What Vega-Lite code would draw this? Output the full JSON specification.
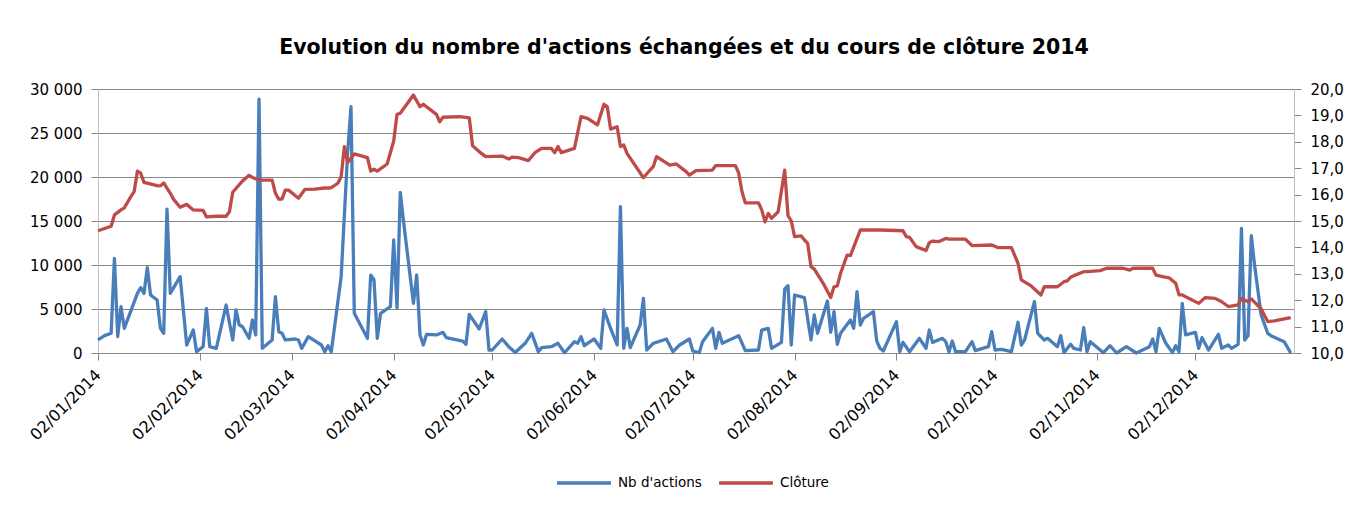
{
  "$schema": "https://vega.github.io/schema/vega-lite/v6.json",
  "width": 1196,
  "height": 264,
  "autosize": {"type": "none"},
  "padding": {"left": 98, "top": 89, "right": 60, "bottom": 154},
  "background": "white",
  "config": {
    "locale": {"number": {"decimal": ",", "thousands": " ", "grouping": [3], "currency": ["", " €"]}},
    "view": {"stroke": null},
    "font": "DejaVu Sans"
  },
  "title": {
    "text": "Evolution du nombre d'actions échangées et du cours de clôture 2014",
    "font": "DejaVu Sans",
    "fontSize": 20.5,
    "fontWeight": "bold",
    "color": "#000000",
    "anchor": "middle",
    "offset": 24,
    "dx": -12
  },
  "datasets": {
    "nb": [
      {"date": "2014-01-02", "v": 1480}, {"date": "2014-01-04", "v": 1970}, {"date": "2014-01-06", "v": 2240},
      {"date": "2014-01-07", "v": 10760}, {"date": "2014-01-08", "v": 1860}, {"date": "2014-01-09", "v": 5270},
      {"date": "2014-01-10", "v": 2800}, {"date": "2014-01-14", "v": 6780}, {"date": "2014-01-15", "v": 7420},
      {"date": "2014-01-16", "v": 6780}, {"date": "2014-01-17", "v": 9700}, {"date": "2014-01-18", "v": 6590},
      {"date": "2014-01-20", "v": 6020}, {"date": "2014-01-21", "v": 2800}, {"date": "2014-01-22", "v": 2240},
      {"date": "2014-01-23", "v": 16360}, {"date": "2014-01-24", "v": 6780}, {"date": "2014-01-27", "v": 8670},
      {"date": "2014-01-29", "v": 910}, {"date": "2014-01-31", "v": 2610}, {"date": "2014-02-01", "v": 150},
      {"date": "2014-02-03", "v": 720}, {"date": "2014-02-04", "v": 5080}, {"date": "2014-02-05", "v": 720},
      {"date": "2014-02-07", "v": 530}, {"date": "2014-02-10", "v": 5450}, {"date": "2014-02-12", "v": 1480},
      {"date": "2014-02-13", "v": 4890}, {"date": "2014-02-14", "v": 3180}, {"date": "2014-02-15", "v": 2990},
      {"date": "2014-02-17", "v": 1670}, {"date": "2014-02-18", "v": 3750}, {"date": "2014-02-19", "v": 2050},
      {"date": "2014-02-20", "v": 28860}, {"date": "2014-02-21", "v": 530}, {"date": "2014-02-24", "v": 1480},
      {"date": "2014-02-25", "v": 6400}, {"date": "2014-02-26", "v": 2420}, {"date": "2014-02-27", "v": 2240},
      {"date": "2014-02-28", "v": 1480}, {"date": "2014-03-03", "v": 1590}, {"date": "2014-03-04", "v": 1480},
      {"date": "2014-03-05", "v": 530}, {"date": "2014-03-07", "v": 1860}, {"date": "2014-03-11", "v": 910},
      {"date": "2014-03-12", "v": 150}, {"date": "2014-03-13", "v": 830}, {"date": "2014-03-14", "v": 150},
      {"date": "2014-03-17", "v": 8670}, {"date": "2014-03-19", "v": 22880}, {"date": "2014-03-20", "v": 27990},
      {"date": "2014-03-21", "v": 4510}, {"date": "2014-03-25", "v": 1670}, {"date": "2014-03-26", "v": 8860},
      {"date": "2014-03-27", "v": 8300}, {"date": "2014-03-28", "v": 1670}, {"date": "2014-03-29", "v": 4510},
      {"date": "2014-04-01", "v": 5270}, {"date": "2014-04-02", "v": 12840}, {"date": "2014-04-03", "v": 5150},
      {"date": "2014-04-04", "v": 18260}, {"date": "2014-04-05", "v": 14920}, {"date": "2014-04-08", "v": 5640},
      {"date": "2014-04-09", "v": 8860}, {"date": "2014-04-10", "v": 2050}, {"date": "2014-04-11", "v": 910},
      {"date": "2014-04-12", "v": 2120}, {"date": "2014-04-15", "v": 2050}, {"date": "2014-04-17", "v": 2350},
      {"date": "2014-04-18", "v": 1740}, {"date": "2014-04-23", "v": 1360}, {"date": "2014-04-24", "v": 990},
      {"date": "2014-04-25", "v": 4390}, {"date": "2014-04-28", "v": 2730}, {"date": "2014-04-30", "v": 4700},
      {"date": "2014-05-01", "v": 340}, {"date": "2014-05-02", "v": 340}, {"date": "2014-05-05", "v": 1590},
      {"date": "2014-05-07", "v": 720}, {"date": "2014-05-09", "v": 50}, {"date": "2014-05-12", "v": 1100},
      {"date": "2014-05-14", "v": 2240}, {"date": "2014-05-16", "v": 150}, {"date": "2014-05-17", "v": 610},
      {"date": "2014-05-20", "v": 720}, {"date": "2014-05-22", "v": 1100}, {"date": "2014-05-24", "v": 30},
      {"date": "2014-05-27", "v": 1290}, {"date": "2014-05-28", "v": 1100}, {"date": "2014-05-29", "v": 1860},
      {"date": "2014-05-30", "v": 830}, {"date": "2014-06-01", "v": 1360}, {"date": "2014-06-02", "v": 1590},
      {"date": "2014-06-04", "v": 530}, {"date": "2014-06-05", "v": 4890}, {"date": "2014-06-07", "v": 2800},
      {"date": "2014-06-09", "v": 910}, {"date": "2014-06-10", "v": 16630}, {"date": "2014-06-11", "v": 530},
      {"date": "2014-06-12", "v": 2800}, {"date": "2014-06-13", "v": 610}, {"date": "2014-06-16", "v": 3180},
      {"date": "2014-06-17", "v": 6210}, {"date": "2014-06-18", "v": 340}, {"date": "2014-06-20", "v": 1100},
      {"date": "2014-06-24", "v": 1590}, {"date": "2014-06-26", "v": 150}, {"date": "2014-06-28", "v": 910},
      {"date": "2014-07-01", "v": 1590}, {"date": "2014-07-02", "v": 230}, {"date": "2014-07-04", "v": 40},
      {"date": "2014-07-05", "v": 1290}, {"date": "2014-07-08", "v": 2800}, {"date": "2014-07-09", "v": 530},
      {"date": "2014-07-10", "v": 2350}, {"date": "2014-07-11", "v": 1100}, {"date": "2014-07-16", "v": 1970},
      {"date": "2014-07-18", "v": 270}, {"date": "2014-07-22", "v": 340}, {"date": "2014-07-23", "v": 2610},
      {"date": "2014-07-25", "v": 2800}, {"date": "2014-07-26", "v": 530}, {"date": "2014-07-29", "v": 1210},
      {"date": "2014-07-30", "v": 7270}, {"date": "2014-07-31", "v": 7650}, {"date": "2014-08-01", "v": 910},
      {"date": "2014-08-02", "v": 6590}, {"date": "2014-08-05", "v": 6290}, {"date": "2014-08-07", "v": 1480},
      {"date": "2014-08-08", "v": 4320}, {"date": "2014-08-09", "v": 2240}, {"date": "2014-08-12", "v": 5910},
      {"date": "2014-08-13", "v": 2350}, {"date": "2014-08-14", "v": 4700}, {"date": "2014-08-15", "v": 990},
      {"date": "2014-08-16", "v": 2240}, {"date": "2014-08-19", "v": 3750}, {"date": "2014-08-20", "v": 2800},
      {"date": "2014-08-21", "v": 6970}, {"date": "2014-08-22", "v": 3180}, {"date": "2014-08-23", "v": 3940},
      {"date": "2014-08-26", "v": 4700}, {"date": "2014-08-27", "v": 1360}, {"date": "2014-08-28", "v": 530},
      {"date": "2014-08-29", "v": 230}, {"date": "2014-09-02", "v": 3560}, {"date": "2014-09-03", "v": 150},
      {"date": "2014-09-04", "v": 1210}, {"date": "2014-09-06", "v": 150}, {"date": "2014-09-09", "v": 1670},
      {"date": "2014-09-11", "v": 530}, {"date": "2014-09-12", "v": 2610}, {"date": "2014-09-13", "v": 1210},
      {"date": "2014-09-16", "v": 1670}, {"date": "2014-09-17", "v": 1290}, {"date": "2014-09-18", "v": 150},
      {"date": "2014-09-19", "v": 1360}, {"date": "2014-09-20", "v": 150}, {"date": "2014-09-23", "v": 150},
      {"date": "2014-09-25", "v": 1290}, {"date": "2014-09-26", "v": 270}, {"date": "2014-09-30", "v": 720},
      {"date": "2014-10-01", "v": 2420}, {"date": "2014-10-02", "v": 340}, {"date": "2014-10-04", "v": 420},
      {"date": "2014-10-07", "v": 150}, {"date": "2014-10-09", "v": 3490}, {"date": "2014-10-10", "v": 910},
      {"date": "2014-10-11", "v": 1480}, {"date": "2014-10-14", "v": 5830}, {"date": "2014-10-15", "v": 2240},
      {"date": "2014-10-17", "v": 1480}, {"date": "2014-10-18", "v": 1670}, {"date": "2014-10-21", "v": 720},
      {"date": "2014-10-22", "v": 1970}, {"date": "2014-10-23", "v": 40}, {"date": "2014-10-25", "v": 990},
      {"date": "2014-10-26", "v": 530}, {"date": "2014-10-28", "v": 340}, {"date": "2014-10-29", "v": 2880},
      {"date": "2014-10-30", "v": 150}, {"date": "2014-10-31", "v": 1290}, {"date": "2014-11-04", "v": 30},
      {"date": "2014-11-06", "v": 830}, {"date": "2014-11-08", "v": 0}, {"date": "2014-11-11", "v": 720},
      {"date": "2014-11-14", "v": 0}, {"date": "2014-11-18", "v": 720}, {"date": "2014-11-19", "v": 1590},
      {"date": "2014-11-20", "v": 150}, {"date": "2014-11-21", "v": 2800}, {"date": "2014-11-23", "v": 1100},
      {"date": "2014-11-25", "v": 40}, {"date": "2014-11-26", "v": 830}, {"date": "2014-11-27", "v": 150},
      {"date": "2014-11-28", "v": 5640}, {"date": "2014-11-29", "v": 2050}, {"date": "2014-12-02", "v": 2350},
      {"date": "2014-12-03", "v": 530}, {"date": "2014-12-04", "v": 1740}, {"date": "2014-12-06", "v": 340},
      {"date": "2014-12-09", "v": 2120}, {"date": "2014-12-10", "v": 530}, {"date": "2014-12-12", "v": 910},
      {"date": "2014-12-13", "v": 530}, {"date": "2014-12-15", "v": 990}, {"date": "2014-12-16", "v": 14170},
      {"date": "2014-12-17", "v": 1480}, {"date": "2014-12-18", "v": 1970}, {"date": "2014-12-19", "v": 13330},
      {"date": "2014-12-20", "v": 10000}, {"date": "2014-12-22", "v": 4320}, {"date": "2014-12-24", "v": 2240},
      {"date": "2014-12-25", "v": 1970}, {"date": "2014-12-29", "v": 1290}, {"date": "2014-12-31", "v": 0}
    ],
    "cl": [
      {"date": "2014-01-02", "v": 14.63}, {"date": "2014-01-06", "v": 14.8}, {"date": "2014-01-07", "v": 15.23},
      {"date": "2014-01-09", "v": 15.42}, {"date": "2014-01-10", "v": 15.5}, {"date": "2014-01-12", "v": 15.92},
      {"date": "2014-01-13", "v": 16.11}, {"date": "2014-01-14", "v": 16.89}, {"date": "2014-01-15", "v": 16.81},
      {"date": "2014-01-16", "v": 16.46}, {"date": "2014-01-20", "v": 16.34}, {"date": "2014-01-21", "v": 16.33},
      {"date": "2014-01-22", "v": 16.44}, {"date": "2014-01-24", "v": 16.05}, {"date": "2014-01-25", "v": 15.82},
      {"date": "2014-01-27", "v": 15.52}, {"date": "2014-01-29", "v": 15.63}, {"date": "2014-01-31", "v": 15.42},
      {"date": "2014-02-03", "v": 15.4}, {"date": "2014-02-04", "v": 15.16}, {"date": "2014-02-07", "v": 15.18},
      {"date": "2014-02-10", "v": 15.18}, {"date": "2014-02-11", "v": 15.35}, {"date": "2014-02-12", "v": 16.09},
      {"date": "2014-02-15", "v": 16.52}, {"date": "2014-02-17", "v": 16.73}, {"date": "2014-02-18", "v": 16.65},
      {"date": "2014-02-20", "v": 16.55}, {"date": "2014-02-24", "v": 16.55}, {"date": "2014-02-25", "v": 16.05},
      {"date": "2014-02-26", "v": 15.83}, {"date": "2014-02-27", "v": 15.83}, {"date": "2014-02-28", "v": 16.17},
      {"date": "2014-03-01", "v": 16.17}, {"date": "2014-03-04", "v": 15.86}, {"date": "2014-03-06", "v": 16.2},
      {"date": "2014-03-09", "v": 16.21}, {"date": "2014-03-11", "v": 16.24}, {"date": "2014-03-14", "v": 16.26},
      {"date": "2014-03-16", "v": 16.43}, {"date": "2014-03-17", "v": 16.68}, {"date": "2014-03-18", "v": 17.82},
      {"date": "2014-03-19", "v": 17.22}, {"date": "2014-03-21", "v": 17.54}, {"date": "2014-03-25", "v": 17.4},
      {"date": "2014-03-26", "v": 16.89}, {"date": "2014-03-27", "v": 16.96}, {"date": "2014-03-28", "v": 16.89},
      {"date": "2014-03-31", "v": 17.16}, {"date": "2014-04-02", "v": 18.03}, {"date": "2014-04-03", "v": 19.04},
      {"date": "2014-04-04", "v": 19.08}, {"date": "2014-04-08", "v": 19.77}, {"date": "2014-04-10", "v": 19.33},
      {"date": "2014-04-11", "v": 19.42}, {"date": "2014-04-15", "v": 19.04}, {"date": "2014-04-16", "v": 18.76},
      {"date": "2014-04-17", "v": 18.93}, {"date": "2014-04-22", "v": 18.95}, {"date": "2014-04-25", "v": 18.91},
      {"date": "2014-04-26", "v": 17.85}, {"date": "2014-04-28", "v": 17.63}, {"date": "2014-04-30", "v": 17.44},
      {"date": "2014-05-05", "v": 17.46}, {"date": "2014-05-07", "v": 17.35}, {"date": "2014-05-08", "v": 17.42},
      {"date": "2014-05-10", "v": 17.4}, {"date": "2014-05-13", "v": 17.29}, {"date": "2014-05-15", "v": 17.59},
      {"date": "2014-05-17", "v": 17.75}, {"date": "2014-05-20", "v": 17.75}, {"date": "2014-05-21", "v": 17.59},
      {"date": "2014-05-22", "v": 17.82}, {"date": "2014-05-23", "v": 17.59}, {"date": "2014-05-27", "v": 17.75},
      {"date": "2014-05-29", "v": 18.95}, {"date": "2014-05-31", "v": 18.89}, {"date": "2014-06-03", "v": 18.64},
      {"date": "2014-06-05", "v": 19.42}, {"date": "2014-06-06", "v": 19.33}, {"date": "2014-06-07", "v": 18.48},
      {"date": "2014-06-09", "v": 18.57}, {"date": "2014-06-10", "v": 17.82}, {"date": "2014-06-11", "v": 17.88},
      {"date": "2014-06-12", "v": 17.56}, {"date": "2014-06-17", "v": 16.64}, {"date": "2014-06-19", "v": 16.93},
      {"date": "2014-06-20", "v": 17.06}, {"date": "2014-06-21", "v": 17.44}, {"date": "2014-06-25", "v": 17.12},
      {"date": "2014-06-27", "v": 17.16}, {"date": "2014-06-30", "v": 16.87}, {"date": "2014-07-01", "v": 16.74},
      {"date": "2014-07-03", "v": 16.91}, {"date": "2014-07-08", "v": 16.93}, {"date": "2014-07-09", "v": 17.1},
      {"date": "2014-07-15", "v": 17.1}, {"date": "2014-07-16", "v": 16.81}, {"date": "2014-07-17", "v": 16.11},
      {"date": "2014-07-18", "v": 15.69}, {"date": "2014-07-22", "v": 15.69}, {"date": "2014-07-23", "v": 15.42},
      {"date": "2014-07-24", "v": 14.97}, {"date": "2014-07-25", "v": 15.29}, {"date": "2014-07-26", "v": 15.1},
      {"date": "2014-07-28", "v": 15.35}, {"date": "2014-07-30", "v": 16.93}, {"date": "2014-07-31", "v": 15.2},
      {"date": "2014-08-01", "v": 15.0}, {"date": "2014-08-02", "v": 14.41}, {"date": "2014-08-04", "v": 14.44},
      {"date": "2014-08-05", "v": 14.28}, {"date": "2014-08-06", "v": 14.15}, {"date": "2014-08-07", "v": 13.27},
      {"date": "2014-08-08", "v": 13.18}, {"date": "2014-08-11", "v": 12.58}, {"date": "2014-08-13", "v": 12.1},
      {"date": "2014-08-14", "v": 12.51}, {"date": "2014-08-15", "v": 12.54}, {"date": "2014-08-16", "v": 13.02},
      {"date": "2014-08-18", "v": 13.71}, {"date": "2014-08-19", "v": 13.69}, {"date": "2014-08-22", "v": 14.66},
      {"date": "2014-08-28", "v": 14.66}, {"date": "2014-09-04", "v": 14.63}, {"date": "2014-09-05", "v": 14.41},
      {"date": "2014-09-06", "v": 14.38}, {"date": "2014-09-08", "v": 14.03}, {"date": "2014-09-11", "v": 13.88},
      {"date": "2014-09-12", "v": 14.18}, {"date": "2014-09-13", "v": 14.24}, {"date": "2014-09-15", "v": 14.22},
      {"date": "2014-09-17", "v": 14.34}, {"date": "2014-09-18", "v": 14.31}, {"date": "2014-09-23", "v": 14.31},
      {"date": "2014-09-25", "v": 14.07}, {"date": "2014-10-01", "v": 14.09}, {"date": "2014-10-03", "v": 13.99},
      {"date": "2014-10-07", "v": 13.99}, {"date": "2014-10-09", "v": 13.4}, {"date": "2014-10-10", "v": 12.77},
      {"date": "2014-10-13", "v": 12.54}, {"date": "2014-10-16", "v": 12.2}, {"date": "2014-10-17", "v": 12.51},
      {"date": "2014-10-21", "v": 12.51}, {"date": "2014-10-23", "v": 12.7}, {"date": "2014-10-24", "v": 12.73},
      {"date": "2014-10-25", "v": 12.87}, {"date": "2014-10-26", "v": 12.93}, {"date": "2014-10-29", "v": 13.08},
      {"date": "2014-10-30", "v": 13.08}, {"date": "2014-11-03", "v": 13.12}, {"date": "2014-11-05", "v": 13.21},
      {"date": "2014-11-10", "v": 13.21}, {"date": "2014-11-12", "v": 13.14}, {"date": "2014-11-13", "v": 13.21},
      {"date": "2014-11-19", "v": 13.21}, {"date": "2014-11-20", "v": 12.95}, {"date": "2014-11-22", "v": 12.89},
      {"date": "2014-11-24", "v": 12.85}, {"date": "2014-11-26", "v": 12.64}, {"date": "2014-11-27", "v": 12.2},
      {"date": "2014-11-28", "v": 12.2}, {"date": "2014-12-03", "v": 11.88}, {"date": "2014-12-05", "v": 12.1},
      {"date": "2014-12-08", "v": 12.07}, {"date": "2014-12-10", "v": 11.94}, {"date": "2014-12-12", "v": 11.76},
      {"date": "2014-12-15", "v": 11.82}, {"date": "2014-12-16", "v": 12.07}, {"date": "2014-12-18", "v": 11.94},
      {"date": "2014-12-19", "v": 12.05}, {"date": "2014-12-22", "v": 11.67}, {"date": "2014-12-24", "v": 11.19},
      {"date": "2014-12-26", "v": 11.22}, {"date": "2014-12-31", "v": 11.34}
    ]
  },
  "encoding": {
    "x": {
      "field": "date",
      "type": "temporal",
      "scale": {
        "type": "utc",
        "domain": [
          {"year": 2014, "month": 1, "date": 2, "utc": true},
          {"year": 2015, "month": 1, "date": 1, "utc": true}
        ]
      },
      "axis": {
        "title": null,
        "values": [
          {"year": 2014, "month": 1, "date": 2, "utc": true},
          {"year": 2014, "month": 2, "date": 2, "utc": true},
          {"year": 2014, "month": 3, "date": 2, "utc": true},
          {"year": 2014, "month": 4, "date": 2, "utc": true},
          {"year": 2014, "month": 5, "date": 2, "utc": true},
          {"year": 2014, "month": 6, "date": 2, "utc": true},
          {"year": 2014, "month": 7, "date": 2, "utc": true},
          {"year": 2014, "month": 8, "date": 2, "utc": true},
          {"year": 2014, "month": 9, "date": 2, "utc": true},
          {"year": 2014, "month": 10, "date": 2, "utc": true},
          {"year": 2014, "month": 11, "date": 2, "utc": true},
          {"year": 2014, "month": 12, "date": 2, "utc": true}
        ],
        "format": "%d/%m/%Y",
        "labelAngle": -45,
        "labelAlign": "right",
        "labelBaseline": "middle",
        "labelFont": "DejaVu Sans",
        "labelFontSize": 16,
        "labelColor": "#000000",
        "labelPadding": 12,
        "labelOverlap": false,
        "labelBound": false,
        "labelFlush": false,
        "tickSize": 7,
        "tickColor": "#868686",
        "domainColor": "#868686",
        "grid": false
      }
    }
  },
  "layer": [
    {
      "data": {"name": "nb"},
      "mark": {"type": "line", "strokeWidth": 3.3, "strokeJoin": "round"},
      "encoding": {
        "y": {
          "field": "v",
          "type": "quantitative",
          "scale": {"domain": [0, 30000], "nice": false, "zero": true},
          "axis": {
            "title": null,
            "values": [0, 5000, 10000, 15000, 20000, 25000, 30000],
            "format": ",.0f",
            "grid": true,
            "gridColor": "#868686",
            "gridWidth": 1,
            "tickSize": 7,
            "tickColor": "#868686",
            "domainColor": "#BFBFBF",
            "labelFont": "DejaVu Sans",
            "labelFontSize": 15,
            "labelColor": "#000000",
            "labelPadding": 9
          }
        },
        "color": {
          "datum": "Nb d'actions",
          "type": "nominal",
          "scale": {"domain": ["Nb d'actions", "Clôture"], "range": ["#4A7EBB", "#BE4B48"]},
          "legend": {
            "orient": "none",
            "legendX": 457,
            "legendY": 365,
            "direction": "horizontal",
            "title": null,
            "symbolType": "stroke",
            "symbolSize": 2900,
            "symbolStrokeWidth": 3.5,
            "labelFont": "DejaVu Sans",
            "labelFontSize": 13.5,
            "labelColor": "#000000",
            "labelOffset": 5,
            "columnPadding": 10
          }
        }
      }
    },
    {
      "data": {"name": "cl"},
      "mark": {"type": "line", "strokeWidth": 3.3, "strokeJoin": "round"},
      "encoding": {
        "y": {
          "field": "v",
          "type": "quantitative",
          "scale": {"domain": [10, 20], "nice": false, "zero": false},
          "axis": {
            "orient": "right",
            "title": null,
            "values": [10, 11, 12, 13, 14, 15, 16, 17, 18, 19, 20],
            "format": ".1f",
            "grid": false,
            "tickSize": 7,
            "tickColor": "#868686",
            "domainColor": "#BFBFBF",
            "labelFont": "DejaVu Sans",
            "labelFontSize": 15,
            "labelColor": "#000000",
            "labelPadding": 9
          }
        },
        "color": {
          "datum": "Clôture",
          "type": "nominal"
        }
      }
    }
  ],
  "resolve": {"scale": {"y": "independent"}}
}
